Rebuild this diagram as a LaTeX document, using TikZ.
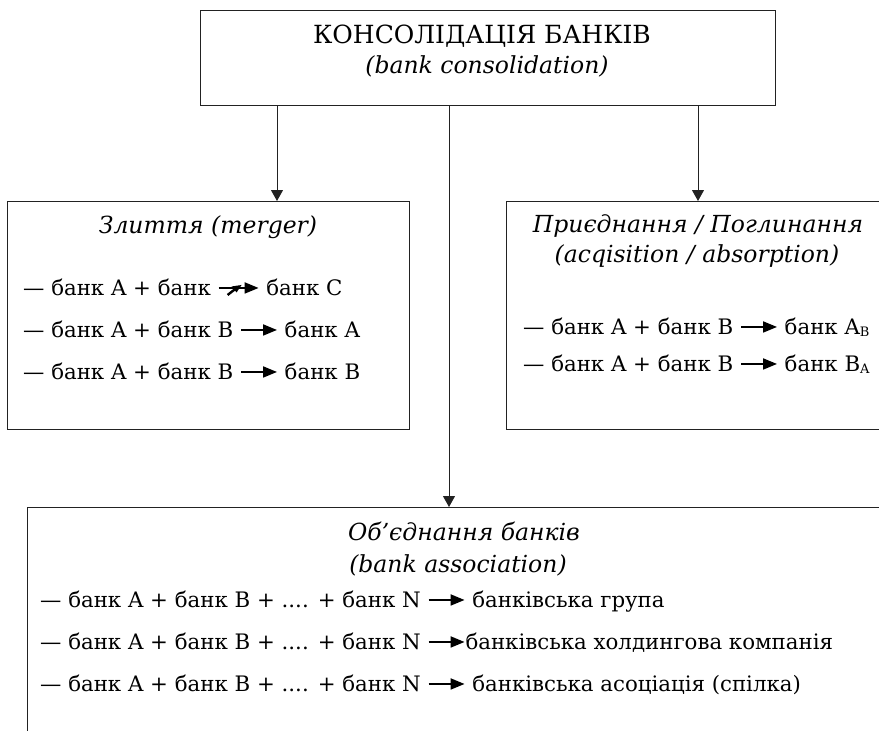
\documentclass[tikz,border=0pt]{standalone}
\usepackage{fontspec}
\setmainfont{DejaVu Serif}
\usetikzlibrary{arrows.meta}
\definecolor{ink}{HTML}{222222}
\tikzset{
  box/.style={draw=ink, line width=1pt, inner sep=0pt, outer sep=0pt, anchor=north west},
  conn/.style={draw=ink, line width=1pt, -{Triangle[length=11pt,width=12pt]}},
  rowtext/.style={anchor=base west, inner sep=0pt, font=\fontsize{21.3}{25}\selectfont},
  ttl/.style={anchor=base, inner sep=0pt, font=\fontsize{23.5}{27}\selectfont\itshape},
}
\newcommand\iarr[1][36]{\tikz[baseline=-0.33em]\draw[line width=1.9pt,-{Triangle[length=14pt,width=11pt]}] (0pt,0pt)--(#1pt,0pt);}
\newcommand\garr{\tikz[baseline=-0.33em]{\draw[line width=1.9pt,-{Triangle[length=14pt,width=11pt]}] (0pt,0pt)--(40pt,0pt);
  \draw[line width=2.4pt] (9pt,-7pt)--(18pt,0pt);
  \fill (13pt,1.5pt)--(23pt,3pt)--(18pt,-4.5pt)--cycle;}}
\newcommand\lsub[1]{\raisebox{-0.12em}{\fontsize{13}{13}\selectfont #1}}
\begin{document}
\begin{tikzpicture}[x=1pt,y=-1pt]
\useasboundingbox (0,0) rectangle (879,731);
\clip (0,0) rectangle (879,731);
% boxes
\node[box, minimum width=575pt, minimum height=95pt] (cons) at (200,10) {};
\node[box, minimum width=402pt, minimum height=228pt] (merge) at (7,201) {};
\node[box, minimum width=400pt, minimum height=228pt] (acq) at (506,201) {};
\node[box, minimum width=880pt, minimum height=280pt] (assoc) at (27,507) {};
% connector columns
\coordinate (cl) at (277,0);
\coordinate (cm) at (449,0);
\coordinate (cr) at (698,0);
\draw[conn] (cl |- cons.south) -- (cl |- merge.north);
\draw[conn] (cm |- cons.south) -- (cm |- assoc.north);
\draw[conn] (cr |- cons.south) -- (cr |- acq.north);
% top
\node[anchor=base, inner sep=0pt, font=\fontsize{25}{29}\selectfont] (t1) at (482,43) {КОНСОЛІДАЦІЯ БАНКІВ};
\node[ttl] (t2) at (487,73) {(bank consolidation)};
% merger
\node[ttl] (m0) at (208,233) {Злиття (merger)};
\node[rowtext] (m1) at (23,295) {— банк A + банк \garr{} банк C};
\node[rowtext] (m2) at (23,337) {— банк A + банк B \iarr{} банк A};
\node[rowtext] (m3) at (23,379) {— банк A + банк B \iarr{} банк B};
% acquisition
\node[ttl] (a0) at (698,232) {Приєднання / Поглинання};
\node[ttl] (a1) at (697,262) {(acqisition / absorption)};
\node[rowtext] (a2) at (523,334) {— банк A + банк B \iarr{} банк A\lsub{B}};
\node[rowtext] (a3) at (523,371) {— банк A + банк B \iarr{} банк B\lsub{A}};
% association
\node[ttl] (b0) at (464,540) {Об’єднання банків};
\node[ttl] (b1) at (458,572) {(bank association)};
\node[rowtext] (b2) at (40,607) {— банк A + банк B + .... + банк N \iarr{} банківська група};
\node[rowtext] (b3) at (40,649) {— банк A + банк B + .... + банк N \iarr{}банківська холдингова компанія};
\node[rowtext] (b4) at (40,691) {— банк A + банк B + .... + банк N \iarr{} банківська асоціація (спілка)};
\end{tikzpicture}
\end{document}
